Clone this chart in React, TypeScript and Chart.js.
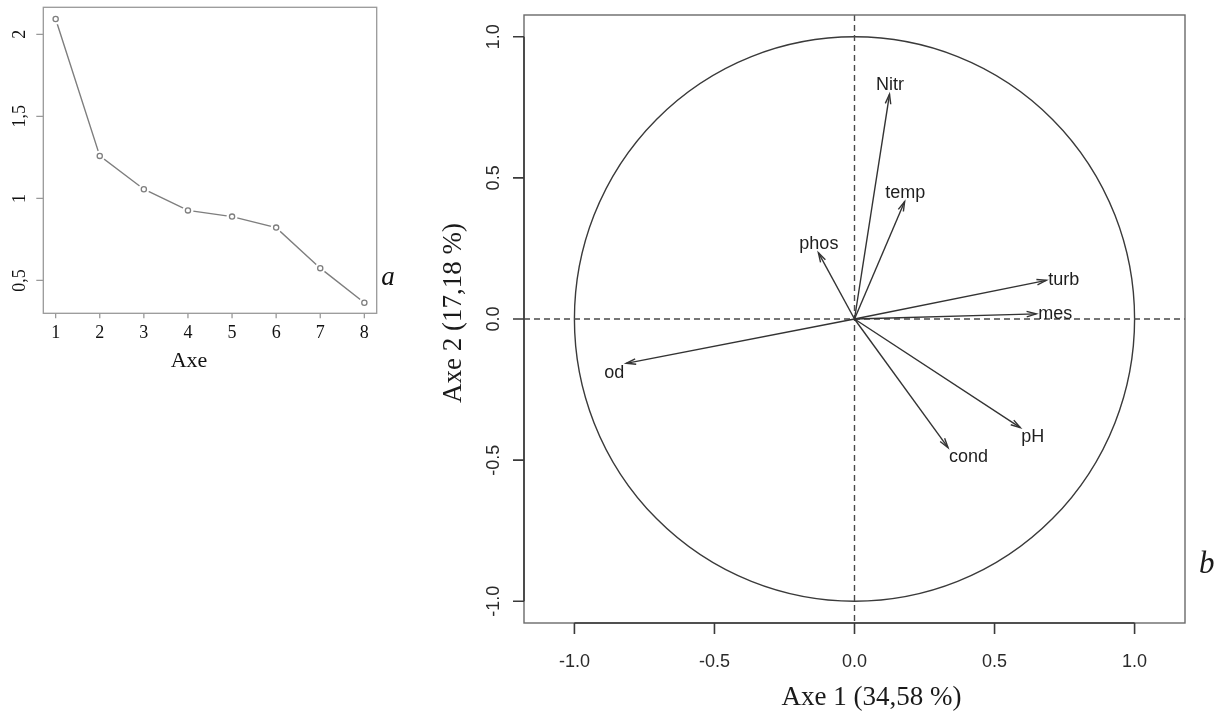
import React, { useEffect, useRef } from 'react';
import { Chart, registerables } from 'chart.js';

Chart.register(...registerables);

// Scree plot: eigenvalue of each principal axis
const axes = [1, 2, 3, 4, 5, 6, 7, 8];
const eigenvalues = [2.093, 1.259, 1.056, 0.927, 0.889, 0.822, 0.575, 0.364];
const screeYTicks = [0.5, 1, 1.5, 2];
const screeYTickLabels = ['0,5', '1', '1,5', '2'];

// Correlation circle: coordinates of each variable on axes 1 and 2
const variables = ['Nitr', 'temp', 'phos', 'turb', 'mes', 'od', 'pH', 'cond'];
const axis1 = [0.125, 0.179, -0.129, 0.685, 0.649, -0.815, 0.592, 0.334];
const axis2 = [0.796, 0.416, 0.235, 0.137, 0.018, -0.157, -0.385, -0.456];
const labelSide = ['top', 'top', 'top', 'right', 'right', 'bottomleft', 'bottomright', 'bottomright'];
const circleTicks = [-1, -0.5, 0, 0.5, 1];
const circleTickLabels = ['-1.0', '-0.5', '0.0', '0.5', '1.0'];

const SERIF = '"Liberation Serif", "Times New Roman", serif';
const SANS = '"Liberation Sans", Arial, sans-serif';

const screePlugin = {
  id: 'screeFrame',
  afterDraw(chart: any) {
    const { ctx, chartArea: a, scales } = chart;
    const x = scales.x;
    const y = scales.y;
    ctx.save();
    ctx.strokeStyle = '#999';
    ctx.lineWidth = 1.3;
    ctx.strokeRect(a.left, a.top, a.right - a.left, a.bottom - a.top);
    ctx.beginPath();
    axes.forEach((v) => {
      const px = x.getPixelForValue(v);
      ctx.moveTo(px, a.bottom);
      ctx.lineTo(px, a.bottom + 5);
    });
    screeYTicks.forEach((v) => {
      const py = y.getPixelForValue(v);
      ctx.moveTo(a.left, py);
      ctx.lineTo(a.left - 7, py);
    });
    ctx.stroke();

    ctx.fillStyle = '#111';
    ctx.font = `18px ${SERIF}`;
    ctx.textAlign = 'center';
    ctx.textBaseline = 'alphabetic';
    axes.forEach((v) => {
      ctx.fillText(String(v), x.getPixelForValue(v), a.bottom + 24.6);
    });
    screeYTicks.forEach((v, i) => {
      ctx.save();
      ctx.translate(a.left - 18, y.getPixelForValue(v));
      ctx.rotate(-Math.PI / 2);
      ctx.fillText(screeYTickLabels[i], 0, 0);
      ctx.restore();
    });

    ctx.font = `22px ${SERIF}`;
    ctx.fillText('Axe', (a.left + a.right) / 2 - 21, a.bottom + 53.5);

    ctx.font = `italic 27px ${SERIF}`;
    ctx.textAlign = 'left';
    ctx.fillText('a', a.right + 4.5, a.bottom - 28);
    ctx.restore();
  },
};

const circlePlugin = {
  id: 'corCircle',
  beforeDatasetsDraw(chart: any) {
    const { ctx, chartArea: a, scales } = chart;
    const x = scales.x;
    const y = scales.y;
    const x0 = x.getPixelForValue(0);
    const y0 = y.getPixelForValue(0);
    ctx.save();
    // unit circle
    ctx.strokeStyle = '#3a3a3a';
    ctx.lineWidth = 1.4;
    ctx.beginPath();
    ctx.ellipse(x0, y0, x.getPixelForValue(1) - x0, y0 - y.getPixelForValue(1), 0, 0, Math.PI * 2);
    ctx.stroke();
    // dashed reference axes
    ctx.strokeStyle = '#4a4a4a';
    ctx.lineWidth = 1.4;
    ctx.setLineDash([6, 4]);
    ctx.beginPath();
    ctx.moveTo(a.left, y0);
    ctx.lineTo(a.right, y0);
    ctx.moveTo(x0, a.top);
    ctx.lineTo(x0, a.bottom);
    ctx.stroke();
    ctx.restore();
  },
  afterDatasetsDraw(chart: any) {
    const { ctx, scales } = chart;
    const x = scales.x;
    const y = scales.y;
    const x0 = x.getPixelForValue(0);
    const y0 = y.getPixelForValue(0);
    ctx.save();
    ctx.strokeStyle = '#333';
    ctx.lineWidth = 1.4;
    variables.forEach((name, i) => {
      const px = x.getPixelForValue(axis1[i]);
      const py = y.getPixelForValue(axis2[i]);
      const ang = Math.atan2(py - y0, px - x0);
      const len = 10;
      const spread = (16 * Math.PI) / 180;
      ctx.beginPath();
      ctx.moveTo(px - len * Math.cos(ang - spread), py - len * Math.sin(ang - spread));
      ctx.lineTo(px, py);
      ctx.lineTo(px - len * Math.cos(ang + spread), py - len * Math.sin(ang + spread));
      ctx.stroke();

      ctx.save();
      ctx.fillStyle = '#1e1e1e';
      ctx.font = `18px ${SANS}`;
      ctx.textBaseline = 'middle';
      const side = labelSide[i];
      if (side === 'top') {
        ctx.textAlign = 'center';
        ctx.fillText(name, px + 0.5, py - 9);
      } else if (side === 'right') {
        ctx.textAlign = 'left';
        ctx.fillText(name, px + 2, py);
      } else if (side === 'bottomleft') {
        ctx.textAlign = 'right';
        ctx.fillText(name, px - 2, py + 10);
      } else {
        ctx.textAlign = 'left';
        ctx.fillText(name, px + 1, py + 9);
      }
      ctx.restore();
    });
    ctx.restore();
  },
  afterDraw(chart: any) {
    const { ctx, chartArea: a, scales } = chart;
    const x = scales.x;
    const y = scales.y;
    ctx.save();
    // plot frame
    ctx.strokeStyle = '#6a6a6a';
    ctx.lineWidth = 1.4;
    ctx.strokeRect(a.left, a.top, a.right - a.left, a.bottom - a.top);
    // axis lines and ticks
    ctx.strokeStyle = '#3a3a3a';
    ctx.lineWidth = 1.6;
    ctx.beginPath();
    ctx.moveTo(x.getPixelForValue(-1), a.bottom);
    ctx.lineTo(x.getPixelForValue(1), a.bottom);
    ctx.moveTo(a.left, y.getPixelForValue(-1));
    ctx.lineTo(a.left, y.getPixelForValue(1));
    circleTicks.forEach((v) => {
      const px = x.getPixelForValue(v);
      ctx.moveTo(px, a.bottom);
      ctx.lineTo(px, a.bottom + 11);
      const py = y.getPixelForValue(v);
      ctx.moveTo(a.left, py);
      ctx.lineTo(a.left - 11, py);
    });
    ctx.stroke();

    ctx.fillStyle = '#2a2a2a';
    ctx.font = `18px ${SANS}`;
    ctx.textAlign = 'center';
    ctx.textBaseline = 'alphabetic';
    circleTicks.forEach((v, i) => {
      ctx.fillText(circleTickLabels[i], x.getPixelForValue(v), a.bottom + 43.5);
      ctx.save();
      ctx.translate(a.left - 25.5, y.getPixelForValue(v));
      ctx.rotate(-Math.PI / 2);
      ctx.fillText(circleTickLabels[i], 0, 0);
      ctx.restore();
    });

    ctx.fillStyle = '#1a1a1a';
    ctx.font = `27px ${SERIF}`;
    const cx = (a.left + a.right) / 2;
    const cy = (a.top + a.bottom) / 2;
    ctx.fillText('Axe 1 (34,58 %)', cx + 17, a.bottom + 82);
    ctx.save();
    ctx.translate(a.left - 63, cy - 6);
    ctx.rotate(-Math.PI / 2);
    ctx.fillText('Axe 2 (17,18 %)', 0, 0);
    ctx.restore();

    ctx.font = `italic 31px ${SERIF}`;
    ctx.textAlign = 'left';
    ctx.fillText('b', a.right + 14, a.bottom - 50);
    ctx.restore();
  },
};

function ScreeChart() {
  const ref = useRef<HTMLCanvasElement>(null);
  useEffect(() => {
    const pts = axes.map((a, i) => ({ x: a, y: eigenvalues[i] }));
    const chart = new Chart(ref.current as HTMLCanvasElement, {
      type: 'scatter',
      data: {
        datasets: [
          { data: pts, showLine: true, borderColor: '#7e7e7e', borderWidth: 1.4, pointRadius: 0, order: 3 },
          {
            data: pts,
            showLine: false,
            pointRadius: 5.5,
            pointBackgroundColor: '#ffffff',
            pointBorderColor: '#ffffff',
            pointBorderWidth: 0,
            order: 2,
          },
          {
            data: pts,
            showLine: false,
            pointRadius: 2.6,
            pointBackgroundColor: '#ffffff',
            pointBorderColor: '#7e7e7e',
            pointBorderWidth: 1.3,
            order: 1,
          },
        ],
      },
      options: {
        responsive: false,
        animation: false,
        events: [],
        layout: { padding: { left: 43.3, top: 7.3, right: 43.3, bottom: 66.7 } },
        plugins: { legend: { display: false }, tooltip: { enabled: false } },
        scales: {
          x: { type: 'linear', display: false, min: 0.72, max: 8.28 },
          y: { type: 'linear', display: false, min: 0.2998, max: 2.1646 },
        },
      },
      plugins: [screePlugin],
    } as any);
    return () => chart.destroy();
  }, []);
  return (
    <canvas
      ref={ref}
      width={420}
      height={380}
      style={{ position: 'absolute', left: 0, top: 0, width: 420, height: 380 }}
    />
  );
}

function CorrelationCircle() {
  const ref = useRef<HTMLCanvasElement>(null);
  useEffect(() => {
    const datasets = variables.map((name, i) => ({
      label: name,
      data: [
        { x: 0, y: 0 },
        { x: axis1[i], y: axis2[i] },
      ],
      showLine: true,
      borderColor: '#333',
      borderWidth: 1.4,
      pointRadius: 0,
    }));
    const chart = new Chart(ref.current as HTMLCanvasElement, {
      type: 'scatter',
      data: { datasets },
      options: {
        responsive: false,
        animation: false,
        events: [],
        layout: { padding: { left: 104, top: 15, right: 38, bottom: 92 } },
        plugins: { legend: { display: false }, tooltip: { enabled: false } },
        scales: {
          x: { type: 'linear', display: false, min: -1.18, max: 1.18 },
          y: { type: 'linear', display: false, min: -1.077, max: 1.077 },
        },
      },
      plugins: [circlePlugin],
    } as any);
    return () => chart.destroy();
  }, []);
  return (
    <canvas
      ref={ref}
      width={803}
      height={715}
      style={{ position: 'absolute', left: 420, top: 0, width: 803, height: 715 }}
    />
  );
}

export default function App() {
  return (
    <div
      style={{
        position: 'absolute',
        left: 0,
        top: 0,
        width: 1223,
        height: 715,
        background: '#ffffff',
        overflow: 'hidden',
      }}
    >
      <ScreeChart />
      <CorrelationCircle />
    </div>
  );
}
